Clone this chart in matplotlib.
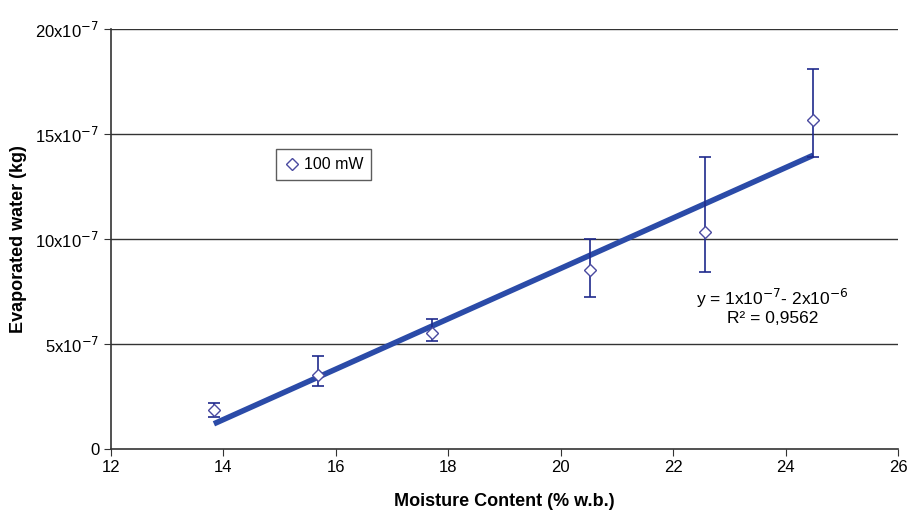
import numpy as np
import matplotlib.pyplot as plt

plt.rcParams["font.family"] = ["Liberation Sans", "DejaVu Sans"]

# moisture content (% w.b.) and evaporated water (x1e-7 kg)
moisture = [13.83, 15.68, 17.71, 20.52, 22.57, 24.49]
water = [1.86, 3.52, 5.52, 8.52, 10.33, 15.67]
err_low = [0.33, 0.52, 0.38, 1.28, 1.90, 1.77]
err_high = [0.33, 0.91, 0.67, 1.48, 3.57, 2.43]

y_ticks = [0, 5, 10, 15, 20]
y_labels = ["0", "5x10$^{-7}$", "10x10$^{-7}$", "15x10$^{-7}$", "20x10$^{-7}$"]
x_ticks = [12, 14, 16, 18, 20, 22, 24, 26]

fig = plt.figure(figsize=(9.1, 5.11), dpi=100)
ax = fig.add_axes([0.122, 0.121, 0.865, 0.822])

for t in y_ticks[1:]:
    ax.axhline(t, color="#333333", lw=1.0, zorder=1)

ax.errorbar(moisture, water, yerr=[err_low, err_high], fmt="none",
            ecolor="#1f2a8c", elinewidth=1.2, capsize=4, capthick=1.2, zorder=3)
ax.plot(moisture, water, linestyle="none", marker="D", markersize=6,
        markerfacecolor="white", markeredgecolor="#4a4aa0", markeredgewidth=1.0,
        label="100 mW", zorder=4)

# linear trend line
coef = np.polyfit(moisture, water, 1)
xs = np.array([moisture[0], moisture[-1]])
ax.plot(xs, np.polyval(coef, xs), color="#2b4ba8", lw=4, solid_capstyle="butt", zorder=2)

ax.set_xlim(12, 26)
ax.set_ylim(0, 20)
ax.set_xticks(x_ticks)
ax.set_yticks(y_ticks)
ax.set_yticklabels(y_labels)
ax.tick_params(axis="both", labelsize=12, color="#333333", length=5)
ax.tick_params(axis="x", pad=3)
for s in ["top", "right"]:
    ax.spines[s].set_visible(False)
for s in ["left", "bottom"]:
    ax.spines[s].set_color("#333333")
    ax.spines[s].set_linewidth(1.2)

ax.set_xlabel("Moisture Content (% w.b.)", fontsize=13, fontweight="bold", labelpad=13)
ax.set_ylabel("Evaporated water (kg)", fontsize=13, fontweight="bold", labelpad=6)

ax.text(0.84, 0.34, "y = 1x10$^{-7}$- 2x10$^{-6}$\nR² = 0,9562", transform=ax.transAxes,
        ha="center", va="center", fontsize=12.5, linespacing=1.1)

leg = ax.legend(loc="upper left", bbox_to_anchor=(0.2, 0.733), fontsize=11.5,
                frameon=True, fancybox=False, handletextpad=0.2, handlelength=1.0,
                borderpad=0.5)
leg.get_frame().set_edgecolor("#333333")
leg.get_frame().set_linewidth(1.0)

fig.savefig("out.png", dpi=100)
